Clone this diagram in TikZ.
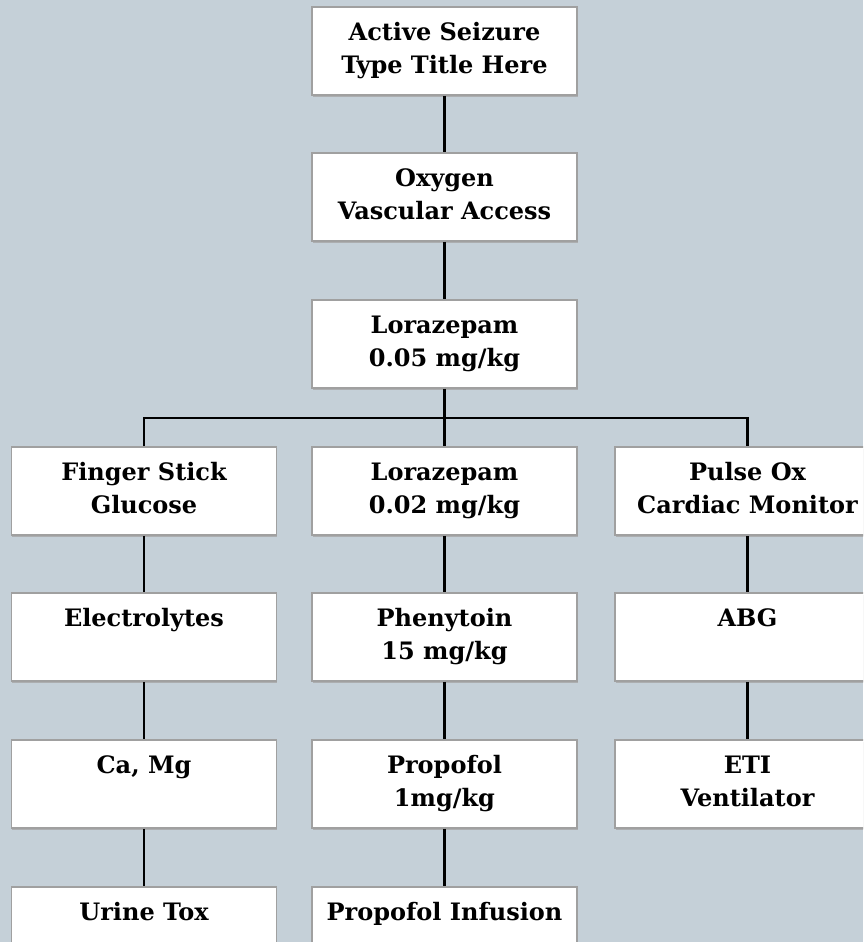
\documentclass[tikz,border=0pt]{standalone}
\usepackage{fontspec}
\setmainfont{DejaVu Serif}
\usetikzlibrary{shadows}
\definecolor{slatebg}{RGB}{197,208,216}
\definecolor{boxedge}{RGB}{160,160,160}

\begin{document}
\begin{tikzpicture}[x=0.5pt, y=-0.5pt,
    stage/.style={draw=boxedge, fill=white, line width=0.9pt,
      minimum width=132.5pt, minimum height=44pt, inner sep=0pt, align=center,
      font=\bfseries\fontsize{12}{16.5}\selectfont,
      text height=25.5pt, text depth=3pt,
      drop shadow={shadow xshift=0.3pt, shadow yshift=-0.8pt, fill=gray!70, opacity=0.8}},
    link/.style={line width=1.2pt}]
        % Background and frame
        \fill[slatebg] (0,0) rectangle (863,942);
        \clip (0,0) rectangle (863,942);

        % Main column
        \node[stage] (title) at (444.5,51) {Active Seizure\\Type Title Here};
        \node[stage] (oxygen) at (444.5,197) {Oxygen\\Vascular Access};
        \node[stage] (loraA) at (444.5,344) {Lorazepam\\0.05 mg/kg};

        % Left branch
        \node[stage] (glucose) at (144,491) {Finger Stick\\ Glucose};
        \node[stage] (lytes) at (144,637) {Electrolytes\\~};
        \node[stage] (camg) at (144,784) {Ca, Mg\\~};
        \node[stage] (tox) at (144,931) {Urine Tox\\~};

        % Middle branch
        \node[stage] (loraB) at (444.5,491) {Lorazepam\\0.02 mg/kg};
        \node[stage] (pheny) at (444.5,637) {Phenytoin\\15 mg/kg};
        \node[stage] (propA) at (444.5,784) {Propofol\\1mg/kg};
        \node[stage] (propB) at (444.5,931) {Propofol Infusion\\~};

        % Right branch
        \node[stage] (pulse) at (747.5,491) {Pulse Ox\\Cardiac Monitor};
        \node[stage] (abg) at (747.5,637) {ABG\\~};
        \node[stage] (eti) at (747.5,784) {ETI\\Ventilator};

        % Connectors
        \coordinate (split) at (444.5,418);
        \draw[link] (title) -- (oxygen);
        \draw[link] (oxygen) -- (loraA);
        \draw[link] (loraA) -- (split);
        \draw[link] (glucose.north) |- (split) -| (pulse.north);
        \draw[link] (split) -- (loraB);
        \draw[link] (glucose) -- (lytes);
        \draw[link] (lytes) -- (camg);
        \draw[link] (camg) -- (tox);
        \draw[link] (loraB) -- (pheny);
        \draw[link] (pheny) -- (propA);
        \draw[link] (propA) -- (propB);
        \draw[link] (pulse) -- (abg);
        \draw[link] (abg) -- (eti);
    \end{tikzpicture}
\end{document}
